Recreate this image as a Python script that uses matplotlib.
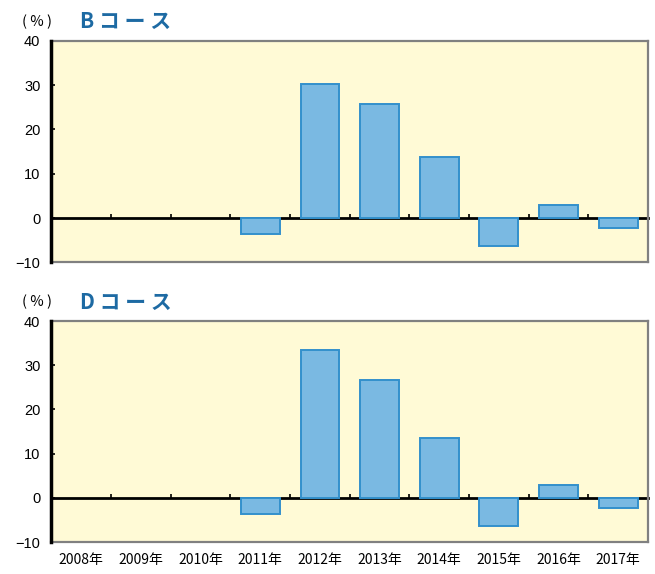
import matplotlib.pyplot as plt
import numpy as np

plt.rcParams['font.family'] = ['Noto Sans CJK JP', 'DejaVu Sans']

years = ['2008年', '2009年', '2010年', '2011年', '2012年',
         '2013年', '2014年', '2015年', '2016年', '2017年']
b_course = [np.nan, np.nan, np.nan, -3.5, 30.2, 25.8, 13.8, -6.2, 3.0, -2.3]
d_course = [np.nan, np.nan, np.nan, -3.6, 33.4, 26.6, 13.5, -6.4, 3.0, -2.4]
titles = ['B コ ー ス', 'D コ ー ス']
yticks = [-10, 0, 10, 20, 30, 40]

bg = '#fffad6'
bar_fill = '#7ab9e2'
bar_edge = '#3390cc'
title_col = '#1d6aa3'

fig = plt.figure(figsize=(6.55, 5.74), dpi=100)
ax_top = fig.add_axes([0.0786, 0.5427, 0.9107, 0.3864])
ax_bot = fig.add_axes([0.0786, 0.0557, 0.9107, 0.385])

x = np.arange(len(years))

for ax, vals, title in zip([ax_top, ax_bot], [b_course, d_course], titles):
    ax.set_facecolor(bg)
    ax.bar(x, vals, 0.65, color=bar_fill, edgecolor=bar_edge, linewidth=1.4, zorder=2)
    ax.set_xlim(-0.5, len(years) - 0.5)
    ax.set_ylim(-10, 40)
    ax.set_yticks(yticks)
    ax.tick_params(axis='y', direction='in', length=3, width=1.2, labelsize=10.5, pad=8)
    for lbl in ax.get_yticklabels():
        lbl.set_family(['Liberation Sans', 'DejaVu Sans'])

    for s in ['top', 'right', 'bottom']:
        ax.spines[s].set_color('#808080')
        ax.spines[s].set_linewidth(1.6)
    ax.spines['left'].set_color('black')
    ax.spines['left'].set_linewidth(2.5)
    ax.spines['left'].set_zorder(4)

    # zero line with small boundary ticks
    sec = ax.secondary_xaxis(0.2)
    sec.spines['bottom'].set_color('black')
    sec.spines['bottom'].set_linewidth(2)
    sec.set_xticks(x[:-1] + 0.5)
    sec.tick_params(direction='in', length=3, width=1.2, labelbottom=False)

    ax.set_xticks(x)
    if ax is ax_bot:
        ax.set_xticklabels(years, fontsize=10)
        ax.tick_params(axis='x', length=0, pad=8)
    else:
        ax.tick_params(axis='x', length=0, labelbottom=False)

    ax.text(-0.024, 1.085, '( % )', transform=ax.transAxes, fontsize=10.5,
            ha='center', va='center')
    ax.text(0.048, 1.085, title, transform=ax.transAxes, fontsize=15,
            fontweight='bold', color=title_col, ha='left', va='center')

fig.savefig('out.png', dpi=100)
